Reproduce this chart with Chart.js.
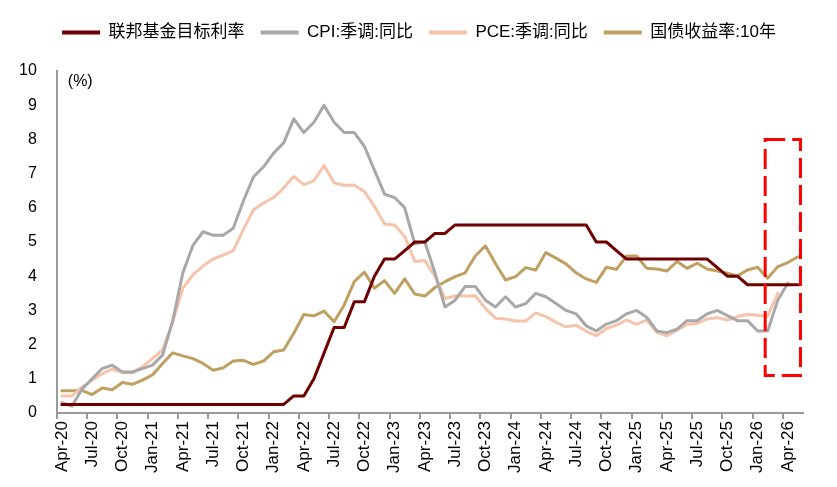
<!DOCTYPE html>
<html>
<head>
<meta charset="utf-8">
<script src="https://cdn.jsdelivr.net/npm/chart.js@4.4.1/dist/chart.umd.min.js"></script>
<style>
  body { margin: 0; background: #fff; }
  #wrap { width: 837px; height: 487px; }
</style>
</head>
<body>
<div id="wrap"><canvas id="chart"></canvas></div>
<script>
const months = [
  'Apr-20','May-20','Jun-20','Jul-20','Aug-20','Sep-20','Oct-20','Nov-20','Dec-20',
  'Jan-21','Feb-21','Mar-21','Apr-21','May-21','Jun-21','Jul-21','Aug-21','Sep-21','Oct-21','Nov-21','Dec-21',
  'Jan-22','Feb-22','Mar-22','Apr-22','May-22','Jun-22','Jul-22','Aug-22','Sep-22','Oct-22','Nov-22','Dec-22',
  'Jan-23','Feb-23','Mar-23','Apr-23','May-23','Jun-23','Jul-23','Aug-23','Sep-23','Oct-23','Nov-23','Dec-23',
  'Jan-24','Feb-24','Mar-24','Apr-24','May-24','Jun-24','Jul-24','Aug-24','Sep-24','Oct-24','Nov-24','Dec-24',
  'Jan-25','Feb-25','Mar-25','Apr-25','May-25','Jun-25','Jul-25','Aug-25','Sep-25','Oct-25','Nov-25','Dec-25',
  'Jan-26','Feb-26','Mar-26','Apr-26','May-26'
];

// 联邦基金目标利率 (上限)
const fedRate = [
  0.25,0.25,0.25,0.25,0.25,0.25,0.25,0.25,0.25,
  0.25,0.25,0.25,0.25,0.25,0.25,0.25,0.25,0.25,0.25,0.25,0.25,
  0.25,0.25,0.5,0.5,1.0,1.75,2.5,2.5,3.25,3.25,4.0,4.5,
  4.5,4.75,5.0,5.0,5.25,5.25,5.5,5.5,5.5,5.5,5.5,5.5,
  5.5,5.5,5.5,5.5,5.5,5.5,5.5,5.5,5.0,5.0,4.75,4.5,
  4.5,4.5,4.5,4.5,4.5,4.5,4.5,4.5,4.25,4.0,4.0,3.75,
  3.75,3.75,3.75,3.75,3.75
];

// CPI:季调:同比
const cpiYoY = [
  0.3,0.2,0.7,1.0,1.3,1.4,1.2,1.2,1.3,
  1.4,1.7,2.7,4.1,4.9,5.3,5.2,5.2,5.4,6.2,6.9,7.2,
  7.6,7.9,8.6,8.2,8.5,9.0,8.5,8.2,8.2,7.8,7.1,6.4,
  6.3,6.0,4.95,5.0,4.1,3.1,3.3,3.7,3.7,3.3,3.1,3.4,
  3.1,3.2,3.5,3.4,3.2,3.0,2.9,2.55,2.4,2.6,2.7,2.9,
  3.0,2.8,2.4,2.35,2.45,2.7,2.7,2.9,3.0,2.85,2.7,2.7,
  2.4,2.4,3.3,3.8
];

// PCE:季调:同比
const pceYoY = [
  0.5,0.5,0.76,0.96,1.15,1.28,1.18,1.18,1.35,
  1.6,1.85,2.67,3.65,4.04,4.3,4.5,4.62,4.75,5.36,5.94,6.14,
  6.3,6.58,6.92,6.68,6.79,7.24,6.73,6.66,6.66,6.48,6.04,5.53,
  5.5,5.16,4.43,4.46,3.99,3.35,3.42,3.42,3.43,3.06,2.77,2.75,
  2.69,2.69,2.93,2.82,2.65,2.52,2.57,2.39,2.26,2.47,2.57,2.72,
  2.59,2.72,2.36,2.26,2.42,2.59,2.62,2.75,2.79,2.72,2.82,2.88,
  2.86,2.84,3.5
];

// 国债收益率:10年
const ust10y = [
  0.65,0.65,0.66,0.54,0.73,0.68,0.89,0.84,0.96,
  1.12,1.45,1.76,1.67,1.59,1.45,1.25,1.32,1.52,1.54,1.42,1.52,
  1.79,1.84,2.33,2.88,2.84,2.98,2.67,3.16,3.84,4.12,3.65,3.87,
  3.5,3.92,3.48,3.42,3.67,3.84,3.99,4.1,4.59,4.89,4.37,3.89,
  3.99,4.25,4.18,4.69,4.53,4.36,4.1,3.92,3.82,4.26,4.2,4.59,
  4.59,4.23,4.21,4.15,4.43,4.23,4.38,4.21,4.15,4.09,4.01,4.18,
  4.26,3.94,4.28,4.4,4.57
];

// 红色虚线框 (类别序号 / 数值)
const highlightBox = { from: 69.75, to: 73.25, low: 1.1, high: 8 };

const axisGrey = '#9a9a9a';
const latinFont = "'Liberation Sans', Arial, sans-serif";
const legendFont = "'Liberation Sans', 'Noto Sans CJK SC', sans-serif";

function series(label, data, color) {
  return {
    label: label,
    data: data,
    borderColor: color,
    backgroundColor: color,
    borderWidth: 3,
    pointRadius: 0,
    tension: 0,
    borderJoinStyle: 'round',
    borderCapStyle: 'round'
  };
}

// extra room under the legend, and centre it on the whole canvas
const legendTweak = {
  id: 'legendTweak',
  beforeInit(chart) {
    const legend = chart.legend;
    if (!legend) return;
    const fit = legend.fit;
    legend.fit = function () {
      fit.bind(legend)();
      this.height += 20;
    };
    const draw = legend.draw;
    legend.draw = function () {
      this.ctx.save();
      this.ctx.translate(18, 0);
      draw.apply(legend, arguments);
      this.ctx.restore();
    };
  }
};

const extras = {
  id: 'extras',
  afterDatasetsDraw(chart) {
    const { ctx, chartArea, scales } = chart;
    ctx.save();
    ctx.fillStyle = '#000';
    ctx.font = '16px ' + latinFont;
    ctx.textBaseline = 'middle';
    ctx.textAlign = 'left';
    ctx.fillText('(%)', chartArea.left + 11, chartArea.top + 11);

    const x1 = scales.x.getPixelForValue(highlightBox.from);
    const x2 = scales.x.getPixelForValue(highlightBox.to);
    const y1 = scales.y.getPixelForValue(highlightBox.high);
    const y2 = scales.y.getPixelForValue(highlightBox.low);
    ctx.strokeStyle = '#ff0000';
    ctx.lineWidth = 3;
    ctx.setLineDash([20, 7]);
    ctx.strokeRect(x1, y1, x2 - x1, y2 - y1);
    ctx.restore();
  }
};

new Chart(document.getElementById('chart'), {
  type: 'line',
  data: {
    labels: months,
    datasets: [
      series('联邦基金目标利率', fedRate, '#6e0000'),
      series('CPI:季调:同比', cpiYoY, '#a8a8a8'),
      series('PCE:季调:同比', pceYoY, '#f6c4aa'),
      series('国债收益率:10年', ust10y, '#c0a060')
    ]
  },
  options: {
    responsive: true,
    maintainAspectRatio: false,
    animation: false,
    layout: { padding: { left: -1, right: 34, top: 8, bottom: 12 } },
    plugins: {
      legend: {
        position: 'top',
        labels: {
          boxWidth: 38,
          boxHeight: 4,
          padding: 16,
          color: '#000',
          font: { family: legendFont, size: 17 },
          generateLabels(chart) {
            return Chart.defaults.plugins.legend.labels.generateLabels(chart)
              .map(item => Object.assign(item, { lineWidth: 0 }));
          }
        }
      },
      tooltip: { enabled: false }
    },
    scales: {
      x: {
        offset: true,
        border: { color: axisGrey, width: 2 },
        grid: {
          offset: true,
          drawOnChartArea: false,
          drawTicks: true,
          tickLength: 6,
          lineWidth: 2,
          color: ctx => (ctx.index % 3 === 0 ? axisGrey : 'rgba(0,0,0,0)')
        },
        ticks: {
          autoSkip: false,
          minRotation: 90,
          maxRotation: 90,
          padding: 2,
          color: '#000',
          font: { family: latinFont, size: 17 },
          callback: (value, index) => (index % 3 === 0 ? months[index] : '')
        }
      },
      y: {
        min: 0,
        max: 10,
        border: { color: axisGrey, width: 2 },
        grid: { display: false, drawTicks: false },
        ticks: {
          stepSize: 1,
          padding: 20,
          color: '#000',
          font: { family: latinFont, size: 16 }
        }
      }
    }
  },
  plugins: [legendTweak, extras]
});
</script>
</body>
</html>
